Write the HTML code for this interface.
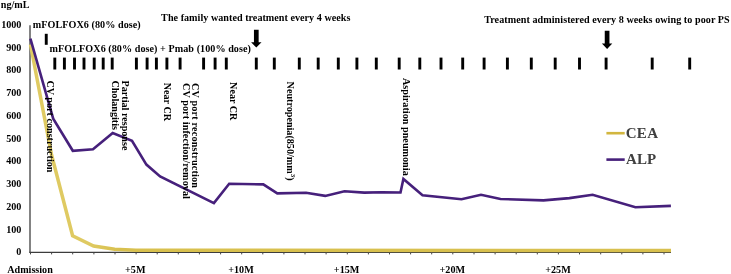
<!DOCTYPE html>
<html><head><meta charset="utf-8"><style>
html,body{margin:0;padding:0;background:#fff;}
body{width:731px;height:274px;overflow:hidden;}
svg{display:block;will-change:transform;}
text{font-family:"Liberation Serif",serif;font-weight:bold;fill:#000;}
</style></head><body>
<svg width="731" height="274" viewBox="0 0 731 274">
<rect width="731" height="274" fill="#fff"/>

<path d="M30 25.2V252.3" fill="none" stroke="#7d7d7d" stroke-width="1.9"/>
<path d="M29.2 252.3H671" fill="none" stroke="#3c3c3c" stroke-width="1.3"/>
<path d="M30.5 252.3V254.4 M51.6 252.3V254.4 M72.7 252.3V254.4 M93.9 252.3V254.4 M115.0 252.3V254.4 M136.1 252.3V254.4 M157.2 252.3V254.4 M178.3 252.3V254.4 M199.4 252.3V254.4 M220.6 252.3V254.4 M241.7 252.3V254.4 M262.8 252.3V254.4 M283.9 252.3V254.4 M305.0 252.3V254.4 M326.1 252.3V254.4 M347.3 252.3V254.4 M368.4 252.3V254.4 M389.5 252.3V254.4 M410.6 252.3V254.4 M431.7 252.3V254.4 M452.8 252.3V254.4 M474.0 252.3V254.4 M495.1 252.3V254.4 M516.2 252.3V254.4 M537.3 252.3V254.4 M558.4 252.3V254.4 M579.5 252.3V254.4 M600.7 252.3V254.4 M621.8 252.3V254.4 M642.9 252.3V254.4 M664.0 252.3V254.4" stroke="#444" stroke-width="1"/>
<text x="21.4" y="27.8" text-anchor="end" font-size="10.15">1000</text><text x="21.4" y="50.6" text-anchor="end" font-size="10.15">900</text><text x="21.4" y="73.3" text-anchor="end" font-size="10.15">800</text><text x="21.4" y="96.1" text-anchor="end" font-size="10.15">700</text><text x="21.4" y="118.8" text-anchor="end" font-size="10.15">600</text><text x="21.4" y="141.6" text-anchor="end" font-size="10.15">500</text><text x="21.4" y="164.4" text-anchor="end" font-size="10.15">400</text><text x="21.4" y="187.1" text-anchor="end" font-size="10.15">300</text><text x="21.4" y="209.9" text-anchor="end" font-size="10.15">200</text><text x="21.4" y="232.6" text-anchor="end" font-size="10.15">100</text><text x="21.4" y="255.4" text-anchor="end" font-size="10.15">0</text>
<text x="0.8" y="7.7" font-size="10.15">ng/mL</text>
<text x="30.0" y="272.9" text-anchor="middle" font-size="10.15">Admission</text>
<text x="135.3" y="272.9" text-anchor="middle" font-size="10.15">+5M</text>
<text x="241.0" y="272.9" text-anchor="middle" font-size="10.15">+10M</text>
<text x="346.6" y="272.9" text-anchor="middle" font-size="10.15">+15M</text>
<text x="452.3" y="272.9" text-anchor="middle" font-size="10.15">+20M</text>
<text x="558.0" y="272.9" text-anchor="middle" font-size="10.15">+25M</text>
<defs><linearGradient id="cg" gradientUnits="userSpaceOnUse" x1="30" y1="0" x2="671" y2="0"><stop offset="0" stop-color="#dfca62"/><stop offset="0.09" stop-color="#dfca62"/><stop offset="0.14" stop-color="#d8c04e"/><stop offset="1" stop-color="#d8c04e"/></linearGradient></defs>
<polyline points="30.5,44.5 51.6,155.0 72.6,235.8 93.6,246.1 114.7,249.3 136.0,250.3 671.0,250.5" fill="none" stroke="url(#cg)" stroke-width="3.5" stroke-linejoin="miter"/>
<polyline points="30.4,38.6 53.2,118.6 72.8,150.8 93.0,149.2 112.7,133.1 132.0,140.9 146.4,164.6 160.1,176.5 213.9,203.1 229.2,183.8 263.3,184.4 277.3,193.4 306.0,192.8 325.2,195.9 344.5,191.2 364.3,192.6 382.1,192.2 400.5,192.5 403.4,179.0 422.5,195.3 461.5,199.3 481.0,194.8 500.5,199.0 543.5,200.4 569.4,198.1 592.6,194.8 635.4,207.3 670.9,205.9" fill="none" stroke="#46207b" stroke-width="2.6" stroke-linejoin="miter"/>
<text x="32.7" y="27.5" font-size="10.15" textLength="108" lengthAdjust="spacing">mFOLFOX6 (80% dose)</text>
<text x="49.6" y="51.5" font-size="10.15" textLength="201.3" lengthAdjust="spacing">mFOLFOX6 (80% dose) + Pmab (100% dose)</text>
<text x="161.1" y="20.6" font-size="10.15" textLength="189.3" lengthAdjust="spacing">The family wanted treatment every 4 weeks</text>
<text x="484.2" y="23" font-size="10.15" textLength="245.5" lengthAdjust="spacing">Treatment administered every 8 weeks owing to poor PS</text>
<rect x="44.8" y="33.8" width="2.9" height="11" fill="#000"/>
<rect x="53.35" y="57.6" width="2.9" height="11.9" fill="#000"/><rect x="62.95" y="57.6" width="2.9" height="11.9" fill="#000"/><rect x="73.05" y="57.6" width="2.9" height="11.9" fill="#000"/><rect x="82.55" y="57.6" width="2.9" height="11.9" fill="#000"/><rect x="92.75" y="57.6" width="2.9" height="11.9" fill="#000"/><rect x="101.75" y="57.6" width="2.9" height="11.9" fill="#000"/><rect x="110.75" y="57.6" width="2.9" height="11.9" fill="#000"/><rect x="134.95" y="57.6" width="2.9" height="11.9" fill="#000"/><rect x="145.65" y="57.6" width="2.9" height="11.9" fill="#000"/><rect x="154.95" y="57.6" width="2.9" height="11.9" fill="#000"/><rect x="165.45" y="57.6" width="2.9" height="11.9" fill="#000"/><rect x="178.65" y="57.6" width="2.9" height="11.9" fill="#000"/><rect x="202.15" y="57.6" width="2.9" height="11.9" fill="#000"/><rect x="213.65" y="57.6" width="2.9" height="11.9" fill="#000"/><rect x="224.85" y="57.6" width="2.9" height="11.9" fill="#000"/><rect x="254.85" y="57.6" width="2.9" height="11.9" fill="#000"/><rect x="272.85" y="57.6" width="2.9" height="11.9" fill="#000"/><rect x="297.85" y="57.6" width="2.9" height="11.9" fill="#000"/><rect x="316.75" y="57.6" width="2.9" height="11.9" fill="#000"/><rect x="336.85" y="57.6" width="2.9" height="11.9" fill="#000"/><rect x="355.45" y="57.6" width="2.9" height="11.9" fill="#000"/><rect x="374.85" y="57.6" width="2.9" height="11.9" fill="#000"/><rect x="397.75" y="57.6" width="2.9" height="11.9" fill="#000"/><rect x="418.35" y="57.6" width="2.9" height="11.9" fill="#000"/><rect x="439.55" y="57.6" width="2.9" height="11.9" fill="#000"/><rect x="461.25" y="57.6" width="2.9" height="11.9" fill="#000"/><rect x="482.65" y="57.6" width="2.9" height="11.9" fill="#000"/><rect x="505.95" y="57.6" width="2.9" height="11.9" fill="#000"/><rect x="529.85" y="57.6" width="2.9" height="11.9" fill="#000"/><rect x="553.75" y="57.6" width="2.9" height="11.9" fill="#000"/><rect x="578.05" y="57.6" width="2.9" height="11.9" fill="#000"/><rect x="604.65" y="57.6" width="2.9" height="11.9" fill="#000"/><rect x="650.75" y="57.6" width="2.9" height="11.9" fill="#000"/><rect x="688.25" y="57.6" width="2.9" height="11.9" fill="#000"/>
<path d="M253.95 29.8H258.65V42.2H261.50L256.30 47.5L251.10 42.2H253.95Z" fill="#000"/>
<path d="M604.75 30.7H609.45V43.5H612.30L607.10 48.9L601.90 43.5H604.75Z" fill="#000"/>
<text transform="translate(47.4 80.4) rotate(90)" font-size="10.15">CV port construction</text>
<text transform="translate(122.1 80.6) rotate(90)" font-size="10.15">Partial response</text>
<text transform="translate(112.3 80.4) rotate(90)" font-size="10.15">Cholangitis</text>
<text transform="translate(163.6 82.7) rotate(90)" font-size="10.15">Near CR</text>
<text transform="translate(192.4 83.0) rotate(90)" font-size="10.15" textLength="104.9" lengthAdjust="spacing">CV port reconstruction</text>
<text transform="translate(183.3 83.0) rotate(90)" font-size="10.15" textLength="115.9" lengthAdjust="spacing">CV port infection/removal</text>
<text transform="translate(230.4 82.1) rotate(90)" font-size="10.15">Near CR</text>
<text transform="translate(287.4 81.6) rotate(90)" font-size="10.15">Neutropenia(850/mm<tspan font-size="7" dy="-4">3</tspan><tspan dy="4">)</tspan></text>
<text transform="translate(402.8 78.0) rotate(90)" font-size="10.15" textLength="97.7" lengthAdjust="spacing">Aspiration pneumonia</text>
<rect x="606.4" y="131.9" width="18.3" height="2.6" fill="#d2b63f"/>
<rect x="606.4" y="158.3" width="18.3" height="2.6" fill="#46207b"/>
<text x="625.7" y="137.9" font-size="15" textLength="32.3" lengthAdjust="spacing" style="fill:#404040">CEA</text>
<text x="626.0" y="164.3" font-size="15" textLength="30.1" lengthAdjust="spacing" style="fill:#404040">ALP</text>
</svg></body></html>
